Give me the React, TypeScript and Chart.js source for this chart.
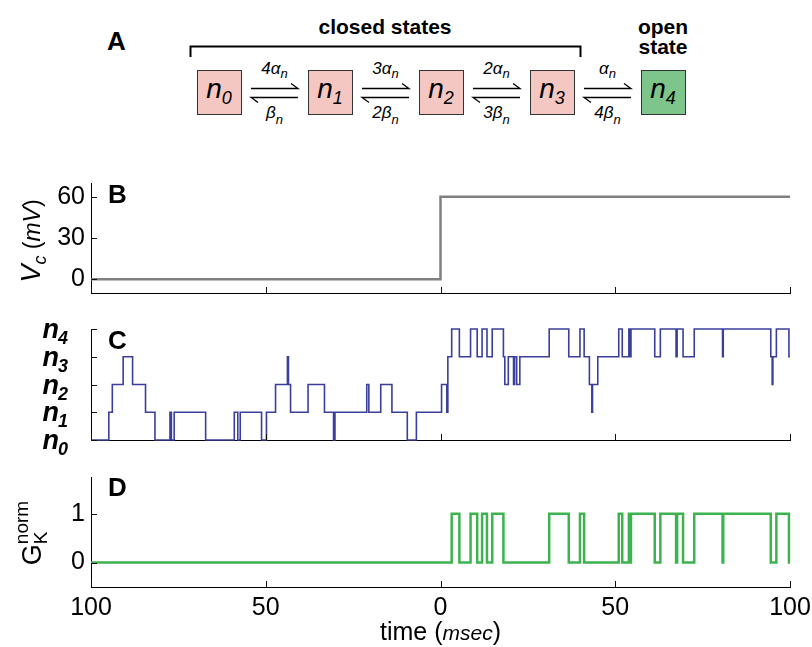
import React, { useEffect, useRef } from "react";
import { Chart, registerables } from "chart.js";

Chart.register(...registerables);

const FONT = "'Liberation Sans', Arial, Helvetica, sans-serif";

// ---------------- data ----------------
const X_TICKS = [-100, -50, 0, 50, 100];

const VC_TIME = [-100, 0, 100];
const VC_VALUES = [0, 60, 60];
const VC_TICKS = [0, 30, 60];

const STATE_TIME = [
  -100, -94.9, -93.9, -90.8, -88.1, -84.4, -81.7, -77.4, -77.0, -76.2,
  -67.2, -59.0, -58.0, -57.3, -51.2, -49.8, -47.2, -43.8, -43.5, -42.9,
  -37.9, -33.2, -30.6, -30.2, -21.1, -20.5, -17.1, -13.9, -9.5, -6.9,
  0.3, 1.8, 2.1, 3.2, 5.4, 8.6, 10.5, 11.9, 13.3, 14.8,
  18.0, 18.4, 19.4, 20.9, 21.2, 21.8, 22.7, 31.1, 36.7, 39.9,
  41.1, 42.6, 43.3, 43.5, 45.0, 51.0, 52.0, 53.9, 54.2, 54.5,
  61.3, 62.9, 67.4, 67.7, 69.4, 72.6, 80.7, 80.9, 94.5, 94.9,
  95.1, 96.1, 99.7, 100,
];
const STATE_VALUES = [
  0, 1, 2, 3, 2, 1, 0, 1, 0, 1,
  0, 1, 0, 1, 0, 1, 2, 3, 2, 1,
  2, 1, 0, 1, 2, 1, 2, 1, 0, 1,
  2, 1, 3, 4, 3, 4, 3, 4, 3, 4,
  3, 2, 3, 2, 3, 2, 3, 4, 3, 4,
  3, 2, 1, 2, 3, 4, 3, 4, 3, 4,
  3, 4, 3, 4, 3, 4, 3, 4, 3, 2,
  3, 4, 3, 3,
];
const STATE_TICKS = [0, 1, 2, 3, 4];
const STATE_SUBSCRIPTS = ["0", "1", "2", "3", "4"];

const G_TIME = [
  -100, 3.2, 5.4, 8.6, 10.5, 11.9, 13.3, 14.8, 18.0, 31.1,
  36.7, 39.9, 41.1, 51.0, 52.0, 53.9, 54.2, 54.5, 61.3, 62.9,
  67.4, 67.7, 69.4, 72.6, 80.7, 80.9, 94.5, 96.1, 99.7, 100,
];
const G_VALUES = [
  0, 1, 0, 1, 0, 1, 0, 1, 0, 1,
  0, 1, 0, 1, 0, 1, 0, 1, 0, 1,
  0, 1, 0, 1, 0, 1, 0, 1, 0, 0,
];
const G_TICKS = [0, 1];

const CLOSED_STATES = ["0", "1", "2", "3"];
const OPEN_STATE = "4";
const FORWARD_RATES = ["4α", "3α", "2α", "α"];
const BACKWARD_RATES = ["β", "2β", "3β", "4β"];

// ---------------- layout ----------------
const W = 812;
const H = 647;
const PLOT_LEFT = 91;
const PLOT_RIGHT = 790;

const inwardTicks = {
  id: "inwardTicks",
  afterDatasetsDraw(chart: any) {
    const { ctx, chartArea, scales } = chart;
    ctx.save();
    ctx.strokeStyle = "#111";
    ctx.lineWidth = 1;
    const len = 6;
    scales.x.ticks.forEach((t: any) => {
      const px = Math.round(scales.x.getPixelForValue(t.value)) + 0.5;
      ctx.beginPath();
      ctx.moveTo(px, chartArea.bottom);
      ctx.lineTo(px, chartArea.bottom - len);
      ctx.stroke();
    });
    scales.y.ticks.forEach((t: any) => {
      const py = Math.round(scales.y.getPixelForValue(t.value)) + 0.5;
      ctx.beginPath();
      ctx.moveTo(chartArea.left, py);
      ctx.lineTo(chartArea.left + len, py);
      ctx.stroke();
    });
    ctx.restore();
  },
};

type Run = { t: string; font: string; dy?: number; sameX?: boolean };

function drawRotatedRuns(ctx: CanvasRenderingContext2D, runs: Run[], cx: number, cy: number) {
  ctx.save();
  ctx.fillStyle = "#000";
  ctx.textBaseline = "alphabetic";
  ctx.textAlign = "left";
  let total = 0;
  let lastW = 0;
  runs.forEach((r) => {
    ctx.font = r.font;
    const w = ctx.measureText(r.t).width;
    if (r.sameX) {
      total = total - lastW + Math.max(lastW, w);
    } else {
      total += w;
      lastW = w;
    }
  });
  ctx.translate(cx, cy);
  ctx.rotate(-Math.PI / 2);
  let x = -total / 2;
  let prevStart = x;
  let prevW = 0;
  runs.forEach((r) => {
    ctx.font = r.font;
    const w = ctx.measureText(r.t).width;
    if (r.sameX) {
      ctx.fillText(r.t, prevStart, r.dy || 0);
      x = prevStart + Math.max(prevW, w);
    } else {
      ctx.fillText(r.t, x, r.dy || 0);
      prevStart = x;
      prevW = w;
      x += w;
    }
  });
  ctx.restore();
}

const vcTitle = {
  id: "vcTitle",
  afterDraw(chart: any) {
    drawRotatedRuns(
      chart.ctx,
      [
        { t: "V", font: `italic 27px ${FONT}` },
        { t: "c", font: `italic 18px ${FONT}`, dy: 6 },
        { t: " (", font: `23px ${FONT}` },
        { t: "mV", font: `italic 23px ${FONT}` },
        { t: ")", font: `23px ${FONT}` },
      ],
      40,
      241
    );
  },
};

const gTitle = {
  id: "gTitle",
  afterDraw(chart: any) {
    drawRotatedRuns(
      chart.ctx,
      [
        { t: "G", font: `27px ${FONT}` },
        { t: "K", font: `19px ${FONT}`, dy: 6 },
        { t: "norm", font: `19px ${FONT}`, dy: -13, sameX: true },
      ],
      41,
      533
    );
  },
};

const timeTitle = {
  id: "timeTitle",
  afterDraw(chart: any) {
    const ctx = chart.ctx as CanvasRenderingContext2D;
    const runs = [
      { t: "time (", font: `25px ${FONT}` },
      { t: "msec", font: `italic 21px ${FONT}` },
      { t: ")", font: `25px ${FONT}` },
    ];
    ctx.save();
    ctx.fillStyle = "#000";
    let total = 0;
    runs.forEach((r) => {
      ctx.font = r.font;
      total += ctx.measureText(r.t).width;
    });
    let x = chart.scales.x.getPixelForValue(0) - total / 2;
    runs.forEach((r) => {
      ctx.font = r.font;
      ctx.fillText(r.t, x, 640);
      x += ctx.measureText(r.t).width;
    });
    ctx.restore();
  },
};

const stateLabels = {
  id: "stateLabels",
  afterDraw(chart: any) {
    const ctx = chart.ctx as CanvasRenderingContext2D;
    const y = chart.scales.y;
    ctx.save();
    ctx.fillStyle = "#000";
    const right = 69;
    y.ticks.forEach((t: any, i: number) => {
      const py = y.getPixelForValue(t.value);
      const sub = STATE_SUBSCRIPTS[i];
      ctx.font = `italic bold 27px ${FONT}`;
      const wn = ctx.measureText("n").width;
      ctx.font = `italic bold 18px ${FONT}`;
      const ws = ctx.measureText(sub).width;
      const x0 = right - wn - ws;
      ctx.font = `italic bold 27px ${FONT}`;
      ctx.fillText("n", x0, py + 9);
      ctx.font = `italic bold 18px ${FONT}`;
      ctx.fillText(sub, x0 + wn - 1, py + 15);
    });
    ctx.restore();
  },
};

type PanelCfg = {
  top: number;
  bottom: number;
  points: { x: number; y: number }[];
  color: string;
  width: number;
  yMin: number;
  yMax: number;
  yTicks: number[];
  showYLabels: boolean;
  showXLabels: boolean;
  extra: any[];
};

function buildChart(canvas: HTMLCanvasElement, c: PanelCfg) {
  return new Chart(canvas, {
    type: "line",
    data: {
      datasets: [
        {
          data: c.points,
          borderColor: c.color,
          borderWidth: c.width,
          pointRadius: 0,
          stepped: "before",
          fill: false,
          tension: 0,
          clip: false,
          borderJoinStyle: "miter",
        } as any,
      ],
    },
    options: {
      animation: false,
      responsive: false,
      events: [],
      layout: { padding: { top: c.top, left: 0, right: W - PLOT_RIGHT, bottom: 0 } },
      plugins: { legend: { display: false }, tooltip: { enabled: false }, title: { display: false } },
      scales: {
        x: {
          type: "linear",
          min: -100,
          max: 100,
          afterBuildTicks: (s: any) => {
            s.ticks = X_TICKS.map((v) => ({ value: v }));
          },
          afterFit: (s: any) => {
            s.height = H - c.bottom;
            s.paddingLeft = 0;
            s.paddingRight = 0;
          },
          grid: { display: false, drawTicks: false },
          border: { display: true, color: "#000", width: 1 },
          ticks: {
            display: c.showXLabels,
            font: { family: FONT, size: 25 },
            color: "#000",
            padding: 6,
            maxRotation: 0,
            autoSkip: false,
            callback: (v: any) => String(Math.abs(Number(v))),
          },
        },
        y: {
          type: "linear",
          min: c.yMin,
          max: c.yMax,
          afterBuildTicks: (s: any) => {
            s.ticks = c.yTicks.map((v) => ({ value: v }));
          },
          afterFit: (s: any) => {
            s.width = PLOT_LEFT;
            s.paddingTop = 0;
            s.paddingBottom = 0;
          },
          grid: { display: false, drawTicks: false },
          border: { display: true, color: "#000", width: 1 },
          ticks: {
            display: c.showYLabels,
            font: { family: FONT, size: 25 },
            color: "#000",
            padding: 6,
            autoSkip: false,
          },
        },
      },
    } as any,
    plugins: [inwardTicks, ...c.extra],
  });
}

function toPoints(t: number[], v: number[]) {
  return t.map((x, i) => ({ x, y: v[i] }));
}

function Diagram() {
  const boxW = 44;
  const boxTop = 70;
  const step = 111;
  const firstX = 197;
  const states = [...CLOSED_STATES, OPEN_STATE];
  return (
    <svg width={W} height={140} style={{ position: "absolute", left: 0, top: 0 }} fontFamily={FONT}>
      <text x={107} y={50} fontWeight="bold" fontSize={26}>
        A
      </text>
      <text x={385} y={34} textAnchor="middle" fontWeight="bold" fontSize={21}>
        closed states
      </text>
      <path d="M190.5 57 V46.5 H580.5 V57" stroke="#000" strokeWidth={2} fill="none" />
      <text x={663} y={34} textAnchor="middle" fontWeight="bold" fontSize={21}>
        open
      </text>
      <text x={663} y={54} textAnchor="middle" fontWeight="bold" fontSize={21}>
        state
      </text>
      {states.map((s, i) => {
        const x = firstX + i * step;
        const open = i === states.length - 1;
        return (
          <g key={"b" + i}>
            <rect
              x={x + 0.5}
              y={boxTop + 0.5}
              width={boxW}
              height={boxW}
              fill={open ? "#7dc58a" : "#f5c7c3"}
              stroke="#333"
              strokeWidth={1}
            />
            <text x={x + boxW / 2} y={boxTop + 28} textAnchor="middle" fontStyle="italic" fontSize={28}>
              n
              <tspan fontSize={18} dy={6}>
                {s}
              </tspan>
            </text>
          </g>
        );
      })}
      {FORWARD_RATES.map((f, i) => {
        const x1 = firstX + i * step + boxW + 10;
        const x2 = firstX + (i + 1) * step - 10;
        const mid = (x1 + x2) / 2;
        return (
          <g key={"a" + i}>
            <path d={`M${x1} 88.5 H${x2} L${x2 - 7} 83.5`} stroke="#000" strokeWidth={1.3} fill="none" />
            <path d={`M${x2} 97.5 H${x1} L${x1 + 7} 102.5`} stroke="#000" strokeWidth={1.3} fill="none" />
            <text x={mid} y={74} textAnchor="middle" fontStyle="italic" fontSize={17}>
              {f}
              <tspan fontSize={13} dy={4}>
                n
              </tspan>
            </text>
            <text x={mid} y={118} textAnchor="middle" fontStyle="italic" fontSize={17}>
              {BACKWARD_RATES[i]}
              <tspan fontSize={13} dy={6}>
                n
              </tspan>
            </text>
          </g>
        );
      })}
    </svg>
  );
}

export default function App() {
  const bRef = useRef<HTMLCanvasElement>(null);
  const cRef = useRef<HTMLCanvasElement>(null);
  const dRef = useRef<HTMLCanvasElement>(null);

  useEffect(() => {
    const charts: Chart[] = [];
    if (bRef.current)
      charts.push(
        buildChart(bRef.current, {
          top: 183,
          bottom: 293,
          points: toPoints(VC_TIME, VC_VALUES),
          color: "#808080",
          width: 2.5,
          yMin: -10,
          yMax: 70,
          yTicks: VC_TICKS,
          showYLabels: true,
          showXLabels: false,
          extra: [vcTitle],
        })
      );
    if (cRef.current)
      charts.push(
        buildChart(cRef.current, {
          top: 329,
          bottom: 440,
          points: toPoints(STATE_TIME, STATE_VALUES),
          color: "#3a3f9c",
          width: 1.6,
          yMin: 0,
          yMax: 4,
          yTicks: STATE_TICKS,
          showYLabels: false,
          showXLabels: false,
          extra: [stateLabels],
        })
      );
    if (dRef.current)
      charts.push(
        buildChart(dRef.current, {
          top: 477,
          bottom: 587,
          points: toPoints(G_TIME, G_VALUES),
          color: "#3cb34f",
          width: 2.5,
          yMin: -0.5,
          yMax: 1.75,
          yTicks: G_TICKS,
          showYLabels: true,
          showXLabels: true,
          extra: [gTitle, timeTitle],
        })
      );
    return () => charts.forEach((ch) => ch.destroy());
  }, []);

  const canvasStyle: React.CSSProperties = { position: "absolute", left: 0, top: 0, width: W, height: H };
  const letter: React.CSSProperties = {
    position: "absolute",
    fontFamily: FONT,
    fontWeight: "bold",
    fontSize: 26,
    lineHeight: "26px",
    margin: 0,
  };

  return (
    <div style={{ position: "fixed", left: 0, top: 0, width: W, height: H, background: "#fff", overflow: "hidden" }}>
      <Diagram />
      <canvas ref={bRef} width={W} height={H} style={canvasStyle} />
      <canvas ref={cRef} width={W} height={H} style={canvasStyle} />
      <canvas ref={dRef} width={W} height={H} style={canvasStyle} />
      <div style={{ ...letter, left: 108, top: 181 }}>B</div>
      <div style={{ ...letter, left: 108, top: 327 }}>C</div>
      <div style={{ ...letter, left: 108, top: 474 }}>D</div>
    </div>
  );
}
